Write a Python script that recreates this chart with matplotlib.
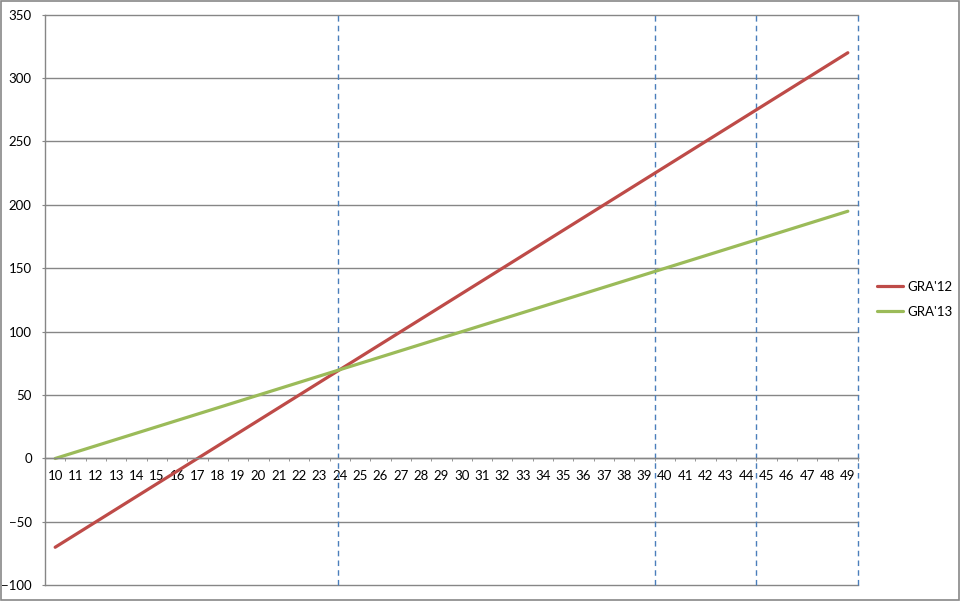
import matplotlib.pyplot as plt
from matplotlib.patches import Rectangle
import numpy as np

plt.rcParams['font.family'] = ['Lato', 'DejaVu Sans']

categories = [str(c) for c in range(10, 50)]
gra12 = [-70, -60, -50, -40, -30, -20, -10, 0, 10, 20,
         30, 40, 50, 60, 70, 80, 90, 100, 110, 120,
         130, 140, 150, 160, 170, 180, 190, 200, 210, 220,
         230, 240, 250, 260, 270, 280, 290, 300, 310, 320]
gra13 = [0, 5, 10, 15, 20, 25, 30, 35, 40, 45,
         50, 55, 60, 65, 70, 75, 80, 85, 90, 95,
         100, 105, 110, 115, 120, 125, 130, 135, 140, 145,
         150, 155, 160, 165, 170, 175, 180, 185, 190, 195]
# vertical marker lines, in category units
markers = [23.9, 39.5, 44.5, 49.5]

grey = '#868686'
fs = 9.5
fig = plt.figure(figsize=(9.62, 6.01), dpi=100)
ax = fig.add_axes([45/962, (601-585.3)/601, 813/962, 570.6/601])

x = np.arange(len(categories))
ax.plot(x, gra12, color='#BE4B48', lw=2.3, label="GRA'12", solid_capstyle='round')
ax.plot(x, gra13, color='#9BBB59', lw=2.3, label="GRA'13", solid_capstyle='round')

for m in markers:
    ax.axvline(m - 10, color='#4A7EBB', lw=1.0, ls=(0, (4, 3)), zorder=1,
               clip_on=False, snap=True)

ax.set_xlim(-0.5, len(categories) - 0.5)
ax.set_ylim(-100, 350)
ax.set_yticks(np.arange(-100, 351, 50))
ax.yaxis.grid(True, color=grey, lw=1.0)
for g in ax.get_ygridlines():
    g.set_clip_on(False)
ax.set_axisbelow(True)

for s in ['top', 'right']:
    ax.spines[s].set_visible(False)
ax.spines['left'].set_color(grey)
ax.spines['left'].set_linewidth(1.0)
ax.spines['bottom'].set_position(('data', 0))
ax.spines['bottom'].set_color(grey)
ax.spines['bottom'].set_linewidth(1.0)

ax.set_xticks(x)
ax.set_xticklabels(categories)
ax.set_xticks(np.arange(-0.5, len(categories)), minor=True)
ax.tick_params(axis='x', which='major', length=0, pad=8.5, labelsize=fs)
ax.tick_params(axis='x', which='minor', length=2.5, direction='out', color=grey)
ax.tick_params(axis='y', length=2.5, color=grey, pad=7, labelsize=fs)

fig.legend(loc='center left', bbox_to_anchor=(877/962, 1 - 299.5/601), frameon=False,
           fontsize=fs, handlelength=2.0, handletextpad=0.3, labelspacing=1.0,
           borderpad=0, borderaxespad=0)

fig.patches.append(Rectangle((0.001, 0.001), 0.996, 0.997, transform=fig.transFigure,
                             fill=False, edgecolor='#888888', lw=1.2))

plt.savefig('out.png', dpi=100)
